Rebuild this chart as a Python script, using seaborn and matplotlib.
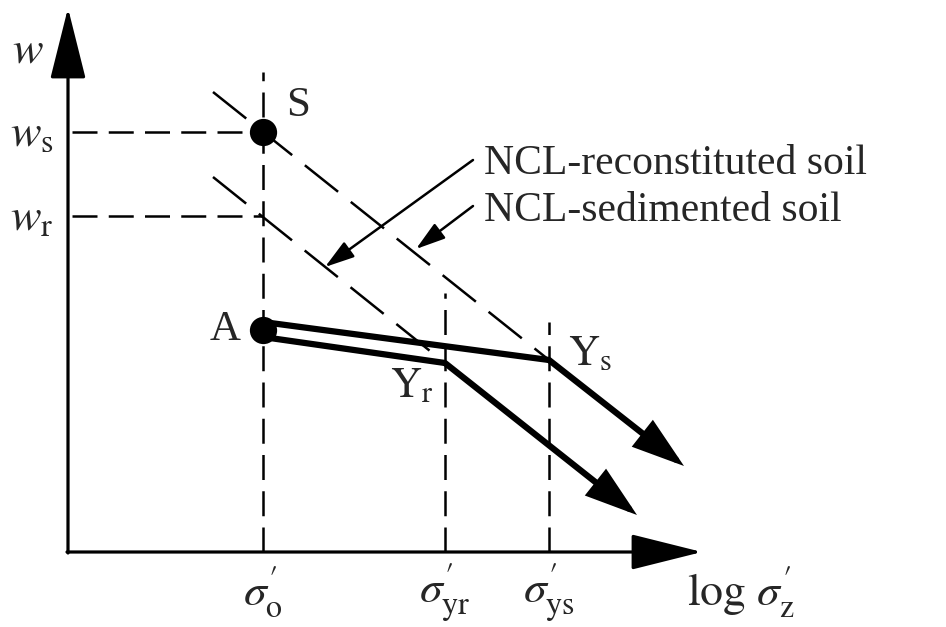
import matplotlib
matplotlib.use("Agg")
import matplotlib.pyplot as plt
import seaborn as sns
import pandas as pd

sns.set_style("white")
plt.rcParams["font.family"] = ["Liberation Serif", "DejaVu Serif"]
plt.rcParams["mathtext.fontset"] = "stix"

# Schematic coordinates: x = log(sigma'_z), y = water content w (arbitrary units)
x_origin, w_origin = 68, 75
x_axis_end, w_axis_end = 702, 619

sigma_o, sigma_yr, sigma_ys = 263, 445, 549
w_s, w_r = 495, 411

# Compression paths starting from in-situ state A
sed_x = [263, 549, 684]
sed_w = [305, 267, 161]
rec_x = [263, 445, 637]
rec_w = [290, 264, 112]
point_A = (263, 297)
point_S = (263, 495)

# Normal compression lines (dashed)
ncl_sed_x = [213, 549]
ncl_sed_w = [535, 267]
ncl_rec_x = [213, 445]
ncl_rec_w = [450, 264]

tick_labels = [r"$\sigma_\mathrm{o}'$", r"$\sigma_\mathrm{yr}'$", r"$\sigma_\mathrm{ys}'$"]
tick_pos = [sigma_o, sigma_yr, sigma_ys]

fig = plt.figure(figsize=(9.46, 6.27), dpi=100)
ax = fig.add_axes([0, 0, 1, 1])
ax.set_xlim(0, 946)
ax.set_ylim(0, 627)
ax.axis("off")

black = "#000000"
ax_lw = 2.3
dash_hv = (0, (10, 4.5))
dash_diag = (0, (17, 6.5))
dlw = 1.8

# Axes with arrow heads
ax.annotate("", xy=(x_origin, w_axis_end), xytext=(x_origin, w_origin - 1),
            arrowprops=dict(arrowstyle="-|>,head_length=1.6,head_width=0.4",
                            lw=ax_lw, color=black, mutation_scale=28,
                            shrinkA=0, shrinkB=0))
ax.annotate("", xy=(x_axis_end, w_origin), xytext=(x_origin - 1, w_origin),
            arrowprops=dict(arrowstyle="-|>,head_length=1.6,head_width=0.4",
                            lw=ax_lw, color=black, mutation_scale=28,
                            shrinkA=0, shrinkB=0))

# Vertical dashed guides
ax.plot([sigma_o, sigma_o], [w_origin, 555], color=black, lw=dlw, ls=dash_hv)
ax.plot([sigma_yr, sigma_yr], [w_origin, 334], color=black, lw=dlw, ls=dash_hv)
ax.plot([sigma_ys, sigma_ys], [w_origin, 305], color=black, lw=dlw, ls=dash_hv)

# Horizontal dashed guides
ax.plot([x_origin + 4, sigma_o], [w_s, w_s], color=black, lw=dlw, ls=dash_hv)
ax.plot([x_origin + 4, sigma_o], [w_r, w_r], color=black, lw=dlw, ls=dash_hv)

# NCL dashed lines
ncl = pd.DataFrame({
    "x": ncl_sed_x + ncl_rec_x,
    "w": ncl_sed_w + ncl_rec_w,
    "soil": ["sed"] * 2 + ["rec"] * 2,
})
for soil, grp in ncl.groupby("soil"):
    sns.lineplot(data=grp, x="x", y="w", ax=ax, color=black, lw=dlw,
                 linestyle=dash_diag, sort=False, legend=False)

# Compression paths (thick)
paths = pd.DataFrame({
    "x": sed_x[:2] + rec_x[:2],
    "w": sed_w[:2] + rec_w[:2],
    "path": ["sed"] * 2 + ["rec"] * 2,
})
for p, grp in paths.groupby("path"):
    sns.lineplot(data=grp, x="x", y="w", ax=ax, color=black, lw=4.5,
                 sort=False, legend=False, solid_capstyle="butt")
for xs, ws in [(sed_x, sed_w), (rec_x, rec_w)]:
    ax.annotate("", xy=(xs[2], ws[2]), xytext=(xs[1], ws[1]),
                arrowprops=dict(arrowstyle="-|>,head_length=1.3,head_width=0.42",
                                lw=4.5, color=black, mutation_scale=22,
                                shrinkA=0, shrinkB=0, joinstyle="miter"))

# Points S and A
pts = pd.DataFrame({"x": [point_S[0], point_A[0]], "w": [point_S[1], point_A[1]]})
sns.scatterplot(data=pts, x="x", y="w", ax=ax, s=330, color=black,
                edgecolor=black, zorder=5, legend=False)

# Leader arrows for NCL labels
ax.annotate("", xy=(325, 360), xytext=(473, 467),
            arrowprops=dict(arrowstyle="-|>,head_length=0.9,head_width=0.28",
                            lw=1.8, color=black, mutation_scale=20,
                            shrinkA=0, shrinkB=0))
ax.annotate("", xy=(416, 378), xytext=(473, 421),
            arrowprops=dict(arrowstyle="-|>,head_length=0.9,head_width=0.28",
                            lw=1.8, color=black, mutation_scale=20,
                            shrinkA=0, shrinkB=0))

ax.text(484, 453, "NCL-reconstituted soil", fontsize=30, ha="left", va="baseline")
ax.text(484, 406, "NCL-sedimented soil", fontsize=30, ha="left", va="baseline")

# Point labels
lab = 31
ax.text(298, 521, "S", fontsize=lab, ha="center", va="center")
ax.text(225, 297, "A", fontsize=lab, ha="center", va="center")
ax.text(412, 240, r"$\mathrm{Y}_\mathrm{r}$", fontsize=lab, ha="center", va="center")
ax.text(590, 272, r"$\mathrm{Y}_\mathrm{s}$", fontsize=lab, ha="center", va="center")

# Axis labels
tl = 33
ax.text(28, 576, r"$w$", fontsize=tl, ha="center", va="center")
ax.text(32, 492, r"$w_\mathrm{s}$", fontsize=tl, ha="center", va="center")
ax.text(32, 408, r"$w_\mathrm{r}$", fontsize=tl, ha="center", va="center")
for pos, t in zip(tick_pos, tick_labels):
    ax.text(pos, 34, t, fontsize=tl, ha="center", va="center")
ax.text(741, 34, r"$\log\,\sigma_\mathrm{z}'$", fontsize=tl, ha="center", va="center")

fig.savefig("out.png", dpi=100)
